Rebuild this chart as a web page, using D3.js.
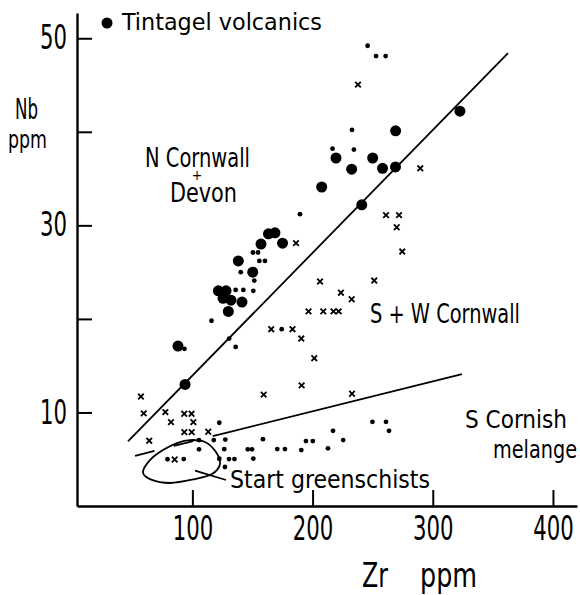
<!DOCTYPE html>
<html>
<head>
<meta charset="utf-8">
<script src="https://cdn.jsdelivr.net/npm/d3@7"></script>
<style>
  body { margin: 0; background: #fff; }
  svg text { font-family: "Liberation Sans Narrow", "DejaVu Sans Condensed", "Arial Narrow", "DejaVu Sans", sans-serif; fill: #000; }
</style>
</head>
<body>
<div id="chart"></div>
<script>
// Tintagel volcanics (large dots)
const tintagelZr = [322.6, 269.1, 219.5, 250, 232.5, 258.2, 269, 207.6, 240.9, 163.3, 168.7, 157.1, 175, 138.2, 150.2, 121.6, 128, 125.5, 132.1, 141.3, 129.9, 88, 93.9];
const tintagelNb = [42.2, 40.1, 37.2, 37.2, 36.0, 36.1, 36.25, 34.1, 32.2, 29.1, 29.2, 28.0, 28.1, 26.2, 25.0, 23.0, 23.0, 22.2, 22.0, 21.8, 20.8, 17.1, 13.0];

// N Cornwall + Devon (small dots)
const devonZr = [245.8, 252.8, 260.8, 232.8, 216.6, 234.4, 189.5, 150.4, 154.6, 155.7, 160.4, 140.2, 151.5, 136, 142.4, 150.7, 115.9, 130.6, 136, 93.4, 174.3];
const devonNb = [49.2, 48.1, 48.1, 40.2, 38.2, 38.1, 31.2, 27.1, 27.1, 26.2, 26.2, 25.0, 24.1, 23.1, 23.1, 23.0, 19.8, 17.9, 17.0, 16.8, 18.9];

// S Cornish melange (small dots)
const melangeZr = [122.4, 105.5, 117.8, 127.4, 105.5, 126.5, 122.4, 130.5, 135, 127.1, 79.3, 92.8, 146.1, 149.6, 150.7, 158.7, 170.6, 177, 190.6, 194.5, 200.2, 212.8, 217, 225.5, 249.8, 261.1, 263.6];
const melangeNb = [8.9, 7.05, 7.05, 7.1, 6.06, 6.07, 5.05, 5.02, 5.02, 4.17, 5.0, 5.02, 6.06, 6.06, 5.07, 7.14, 6.09, 6.09, 5.98, 6.94, 6.94, 6.16, 8.04, 7.05, 9.0, 9.0, 8.04];

// S + W Cornwall (crosses)
const swZr = [237.8, 289.6, 186.2, 261.1, 271.9, 270, 274.6, 206.2, 251.3, 223.6, 232.5, 196.6, 208.9, 217.4, 221.7, 165.6, 183.3, 190.6, 201.4, 190.9, 159.3, 232.8, 57.2, 59.5, 77.5, 82.2, 93.2, 99.3, 100.8, 93.3, 99.4, 113.2, 64.1, 85.3];
const swNb = [45.05, 36.1, 28.1, 31.1, 31.1, 29.8, 27.2, 24.0, 24.1, 22.8, 22.1, 20.8, 20.8, 20.8, 20.8, 18.9, 18.9, 17.9, 15.8, 12.9, 11.9, 12.0, 11.7, 9.9, 10.04, 8.97, 9.86, 9.86, 8.97, 7.9, 7.9, 7.94, 6.98, 4.97];

// dividing lines
const upperLineZr = [46.4, 362.6];
const upperLineNb = [6.9, 48.4];
const lowerLineZr = [130.5, 324.3];
const lowerLineNb = [7.9, 14.1];
const lowerDashZr = [52.3, 130.5];
const lowerDashNb = [5.37, 7.9];

// Start greenschists field outline + leader
const startZr = [58.9, 64.7, 75.5, 87.2, 98.0, 110.5, 119.6, 123.0, 116.3, 102.2, 81.4, 64.7];
const startNb = [3.63, 4.91, 5.98, 6.73, 7.05, 6.84, 5.77, 4.49, 3.42, 2.88, 2.46, 2.88];
const leaderZr = [102.2, 128];
const leaderNb = [3.77, 2.78];

const xTicks = [100, 200, 300, 400];
const yTicks = [10, 20, 30, 40, 50];
const yLabels = [10, 30, 50];

const width = 580, height = 595;

const svg = d3.select("#chart")
  .append("svg")
  .attr("width", width)
  .attr("height", height);

const x = d3.scaleLinear().domain([4, 420]).range([77, 577]);
const y = d3.scaleLinear().domain([0, 52.7]).range([506, 13]);

const zip = (a, b) => a.map((v, i) => [v, b[i]]);

// axes
const xAxis = svg.append("g")
  .attr("transform", "translate(0," + y(0) + ")")
  .call(d3.axisBottom(x).tickValues(xTicks).tickSize(-16).tickSizeOuter(0).tickPadding(11));

const yAxis = svg.append("g")
  .attr("transform", "translate(" + x(4) + ",0)")
  .call(d3.axisLeft(y).tickValues(yTicks).tickSize(-15).tickSizeOuter(0).tickPadding(10)
    .tickFormat(d => yLabels.includes(d) ? d : ""));

[xAxis, yAxis].forEach(g => {
  g.attr("font-family", null);
  g.select(".domain").attr("stroke", "#000").attr("stroke-width", 2.4);
  g.selectAll(".tick line").attr("stroke", "#000").attr("stroke-width", 2);
  g.selectAll(".tick text")
    .attr("font-size", 33)
    .attr("fill", "#000")
    .each(function() {
      let t = d3.select(this);
      if (t.text() !== "") {
        t.attr("textLength", t.text().length * 13.5).attr("lengthAdjust", "spacingAndGlyphs");
      }
    });
});

// lines
const line = d3.line().x(d => x(d[0])).y(d => y(d[1]));

svg.append("path")
  .attr("d", line(zip(upperLineZr, upperLineNb)))
  .attr("stroke", "#000").attr("stroke-width", 1.8).attr("fill", "none");

svg.append("path")
  .attr("d", line(zip(lowerLineZr, lowerLineNb)))
  .attr("stroke", "#000").attr("stroke-width", 1.8).attr("fill", "none");

svg.append("path")
  .attr("d", line(zip(lowerDashZr, lowerDashNb)))
  .attr("stroke", "#000").attr("stroke-width", 1.8).attr("fill", "none")
  .attr("stroke-dasharray", "20,20");

svg.append("path")
  .attr("d", d3.line().x(d => x(d[0])).y(d => y(d[1])).curve(d3.curveCardinalClosed)(zip(startZr, startNb)))
  .attr("stroke", "#000").attr("stroke-width", 1.8).attr("fill", "none");

svg.append("path")
  .attr("d", line(zip(leaderZr, leaderNb)))
  .attr("stroke", "#000").attr("stroke-width", 1.8).attr("fill", "none");

// points
svg.selectAll(".big")
  .data(zip(tintagelZr, tintagelNb))
  .enter()
  .append("circle")
  .attr("class", "big")
  .attr("cx", d => x(d[0]))
  .attr("cy", d => y(d[1]))
  .attr("r", 5.5)
  .attr("fill", "#000");

svg.selectAll(".small")
  .data(zip(devonZr, devonNb).concat(zip(melangeZr, melangeNb)))
  .enter()
  .append("circle")
  .attr("class", "small")
  .attr("cx", d => x(d[0]))
  .attr("cy", d => y(d[1]))
  .attr("r", 2.4)
  .attr("fill", "#000");

const c = 2.8;
svg.selectAll(".cross")
  .data(zip(swZr, swNb))
  .enter()
  .append("path")
  .attr("class", "cross")
  .attr("d", d => {
    let px = x(d[0]), py = y(d[1]);
    return "M" + (px - c) + "," + (py - c) + "L" + (px + c) + "," + (py + c) +
      "M" + (px + c) + "," + (py - c) + "L" + (px - c) + "," + (py + c);
  })
  .attr("stroke", "#000")
  .attr("stroke-width", 1.8);

// text helper: squeeze the lettering to the narrow width of the original
function label(tx, ty, size, width, str, anchor) {
  return svg.append("text")
    .attr("x", tx).attr("y", ty)
    .attr("font-size", size)
    .attr("text-anchor", anchor || "start")
    .attr("textLength", width)
    .attr("lengthAdjust", "spacingAndGlyphs")
    .text(str);
}

// legend
svg.append("circle").attr("cx", 107).attr("cy", 23).attr("r", 5.5).attr("fill", "#000");
label(122, 30, 23, 200, "Tintagel volcanics");

// axis titles
label(15, 119, 29, 23, "Nb");
label(8, 148, 25, 39, "ppm");
label(362, 587, 34, 26, "Zr");
label(420, 587, 34, 57, "ppm");

// region labels
label(145, 167, 26, 105, "N Cornwall");
svg.append("text").attr("x", 197).attr("y", 180).attr("font-size", 14)
  .attr("text-anchor", "middle").text("+");
label(170, 202, 26, 67, "Devon");
label(370, 323, 26, 150, "S + W Cornwall");
label(465, 428, 24, 102, "S Cornish");
label(493, 458, 24, 84, "melange");
label(230, 488, 25, 200, "Start greenschists");
</script>
</body>
</html>
